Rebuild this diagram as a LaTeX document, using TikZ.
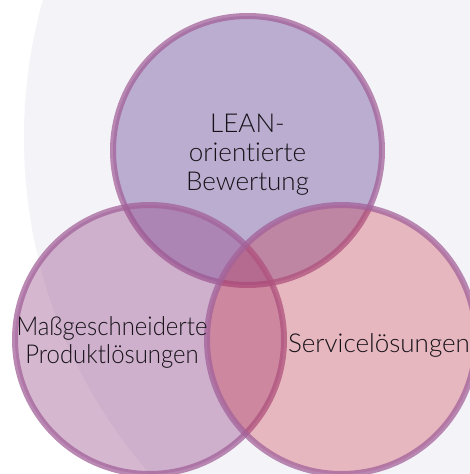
\documentclass[tikz,border=0pt]{standalone}
\usepackage{fontspec}
\setmainfont{Lato}[UprightFont=* Light, Ligatures=NoCommon]
\newfontfamily\narrowlato{Lato}[UprightFont=* Light, Ligatures=NoCommon, FakeStretch=0.92]
\definecolor{bgc}{RGB}{244,243,248}
\definecolor{topc}{RGB}{99,70,148}
\definecolor{leftc}{RGB}{151,75,138}
\definecolor{rightc}{RGB}{204,46,61}
\definecolor{ringc}{RGB}{163,98,154}
\definecolor{txtc}{RGB}{22,18,24}
\tikzset{
  venn/.style={circle, minimum size=269pt, inner sep=0pt, outer sep=0pt,
    draw=ringc, line width=6pt, draw opacity=0.75},
  label/.style={text=txtc, align=center, inner sep=0pt,
    font=\fontsize{26}{28.8}\selectfont}
}
\begin{document}
\begin{tikzpicture}[x=1pt,y=-1pt]
\useasboundingbox (0,0) rectangle (470,474);
\clip (0,0) rectangle (470,474);
\fill[white] (0,0) rectangle (470,474);
\fill[bgc] (535,138) circle[radius=511pt];
\node[venn, fill=topc, fill opacity=0.4] (top) at (247.5,150.5) {};
\node[venn, fill=leftc, fill opacity=0.4] (left) at (149.5,339.5) {};
\node[venn, fill=rightc, fill opacity=0.3] (right) at (341.5,339.5) {};
\node[label, anchor=base] (ttop) at (247.5,190) {LEAN-\\orientierte\\Bewertung};
\node[label, anchor=base, font=\narrowlato\fontsize{26}{28}\selectfont] (tleft) at (112,363) {Maßgeschneiderte\\Produktlösungen};
\node[label, anchor=base] (tright) at (379,352) {Servicelösungen};
\end{tikzpicture}
\end{document}
